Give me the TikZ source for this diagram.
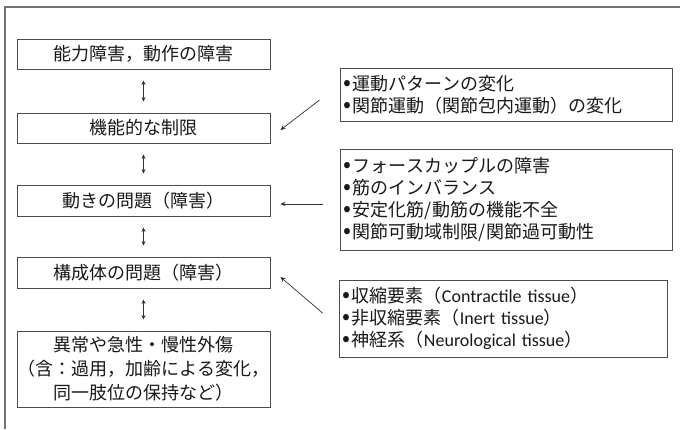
\documentclass[tikz,border=0pt]{standalone}
\usepackage{fontspec}
\setmainfont{Noto Sans CJK JP}
\newfontfamily\lat{Carlito}
\usetikzlibrary{arrows.meta}
\newcommand{\bul}{\smash{\scalebox{1.3}{•}}\hspace{2pt}}
\begin{document}
\begin{tikzpicture}[x=1pt,y=-1pt,
  frame/.style={draw=black!55,line width=1.3pt},
  lbox/.style={draw=black!70,line width=0.9pt,minimum width=253pt,inner sep=0pt,align=center,font=\fontsize{18}{24}\selectfont,text=black!90},
  rbox/.style={draw=black!70,line width=0.9pt,inner sep=0pt,align=left,font=\fontsize{18}{22}\selectfont,text=black!90},
  dbl/.style={{Stealth[length=4.5pt,width=4pt]}-{Stealth[length=4.5pt,width=4pt]},line width=0.7pt,black!80},
  arr/.style={-{Stealth[length=5pt,width=4.5pt]},line width=0.7pt,black!80}]
\useasboundingbox (0,0) rectangle (680,429);
\fill[white] (0,0) rectangle (680,429);
\draw[frame] (680,7) -- (5,7) -- (5,429);

\node[lbox,minimum height=30pt] (b1) at (143.5,54) {能力障害，動作の障害};
\node[lbox,minimum height=30pt] (b2) at (143.5,128) {機能的な制限};
\node[lbox,minimum height=31pt] (b3) at (143.5,200.5) {動きの問題（障害）};
\node[lbox,minimum height=31pt] (b4) at (143.5,272.5) {構成体の問題（障害）};
\node[lbox,minimum height=76pt] (b5) at (143.5,369) {異常や急性・慢性外傷\\（含：過用，加齢による変化，\\同一肢位の保持など）};

\foreach \u/\v in {b1/b2,b2/b3,b3/b4,b4/b5}
  \draw[dbl] ([yshift=-11pt]\u.south) -- ([yshift=11pt]\v.north);

\node[rbox,minimum width=332pt,minimum height=53pt,text width=326pt] (A) at (506,94.5)
  {\bul 運動パターンの変化\\\bul 関節運動（関節包内運動）の変化};
\node[rbox,minimum width=332pt,minimum height=101pt,text width=326pt] (B) at (506,199.5)
  {\bul フォースカップルの障害\\\bul 筋のインバランス\\\bul 安定化筋/動筋の機能不全\\\bul 関節可動域制限/関節過可動性};
\node[rbox,minimum width=328pt,minimum height=77pt,text width=322pt] (C) at (503,318.5)
  {\bul 収縮要素（{\lat Contractile tissue}）\\\bul 非収縮要素（{\lat Inert tissue}）\\\bul 神経系（{\lat Neurological tissue}）};

\draw[arr] ([shift={(-20pt,-5.5pt)}]A.west) -- ([shift={(10pt,-2pt)}]b2.east);
\draw[arr] ([shift={(-17pt,-4.5pt)}]B.west) -- ([shift={(10pt,-3.5pt)}]b3.east);
\draw[arr] ([shift={(-16pt,5.5pt)}]C.west) -- ([shift={(10pt,-4.5pt)}]b4.east);
\end{tikzpicture}
\end{document}
